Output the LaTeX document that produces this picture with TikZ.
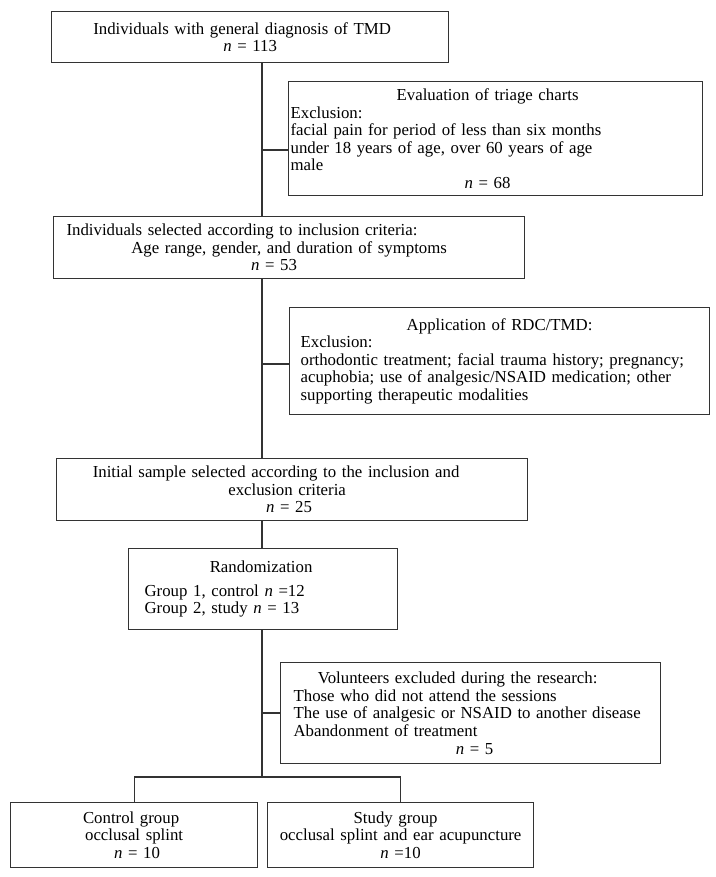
\documentclass[tikz,border=0pt]{standalone}
\usepackage{fontspec}
\setmainfont{Liberation Serif}
\usepackage{tikz}
\newcommand{\boxfont}{\fontsize{16.8}{17.6}\selectfont}
\newcommand{\ctr}[2][0pt]{\makebox[\linewidth][c]{\kern#1\relax#2\kern-\dimexpr#1\relax}}

\begin{document}
\begin{tikzpicture}[x=1pt,y=-1pt,
  box/.style={draw=black!80, line width=1.2pt, anchor=north west, align=left, font=\boxfont, inner ysep=0pt},
  link/.style={draw=black!80, line width=1.2pt}]
\useasboundingbox (0,0) rectangle (715,877);
\node[box, minimum width=397pt, minimum height=51pt, text width=387pt, inner xsep=5pt] (tmd) at (51,11)
  {\ctr[-8pt]{Individuals with general diagnosis of TMD}\\ \ctr{\textit{n} = 113}};
\node[box, minimum width=414pt, minimum height=114pt, text width=410pt, inner xsep=2pt] (triage) at (288,81)
  {\ctr[-8pt]{Evaluation of triage charts}\\
   Exclusion:\\
   facial pain for period of less than six months\\
   under 18 years of age, over 60 years of age\\
   male\\
   \ctr[-8pt]{\textit{n} = 68}};
\node[box, minimum width=471pt, minimum height=62pt, text width=445pt, inner xsep=13pt] (incl) at (53,216)
  {Individuals selected according to inclusion criteria:\\
   \ctr{Age range, gender, and duration of symptoms}\\
   \ctr[-15pt]{\textit{n} = 53}};
\node[box, minimum width=420pt, minimum height=107pt, text width=398pt, inner xsep=11pt] (rdc) at (289,307)
  {\ctr{Application of RDC/TMD:}\\
   Exclusion:\\
   orthodontic treatment; facial trauma history; pregnancy;\\
   acuphobia; use of analgesic/NSAID medication; other\\
   supporting therapeutic modalities};
\node[box, minimum width=471pt, minimum height=62pt, text width=451pt, inner xsep=10pt] (init) at (56,458)
  {\ctr[-16pt]{Initial sample selected according to the inclusion and}\\
   \ctr[-5pt]{exclusion criteria}\\
   \ctr[-3pt]{\textit{n} = 25}};
\node[box, minimum width=269pt, minimum height=81pt, text width=237pt, inner xsep=16pt] (rand) at (128,548)
  {\ctr[-2pt]{Randomization}\\[6pt]
   Group 1, control \textit{n} =12\\
   Group 2, study \textit{n} = 13};
\node[box, minimum width=380pt, minimum height=101pt, text width=354pt, inner xsep=13pt] (excl) at (280,662)
  {\ctr[-13pt]{Volunteers excluded during the research:}\\
   Those who did not attend the sessions\\
   The use of analgesic or NSAID to another disease\\
   Abandonment of treatment\\
   \ctr[4pt]{\textit{n} = 5}};
\node[box, minimum width=247pt, minimum height=65pt, text width=237pt, inner xsep=5pt] (ctrl) at (10,802)
  {\ctr[-3pt]{Control group}\\ \ctr{occlusal splint}\\ \ctr[3pt]{\textit{n} = 10}};
\node[box, minimum width=266pt, minimum height=65pt, text width=256pt, inner xsep=5pt] (study) at (267,802)
  {\ctr[-5pt]{Study group}\\ \ctr{occlusal splint and ear acupuncture}\\ \ctr{\textit{n} =10}};
\coordinate (trunk) at (262,0);
\coordinate (s1) at (262,150);
\coordinate (s2) at (262,364);
\coordinate (s3) at (262,713);
\coordinate (fork) at (262,777);
\draw[link] (tmd.south -| trunk) -- (incl.north -| trunk);
\draw[link] (s1) -- (s1 -| triage.west);
\draw[link] (incl.south -| trunk) -- (init.north -| trunk);
\draw[link] (s2) -- (s2 -| rdc.west);
\draw[link] (init.south -| trunk) -- (rand.north -| trunk);
\draw[link] (rand.south -| trunk) -- (fork);
\draw[link] (s3) -- (s3 -| excl.west);
\draw[link] (fork) -| (ctrl.north);
\draw[link] (fork) -| (study.north);
\end{tikzpicture}
\end{document}
